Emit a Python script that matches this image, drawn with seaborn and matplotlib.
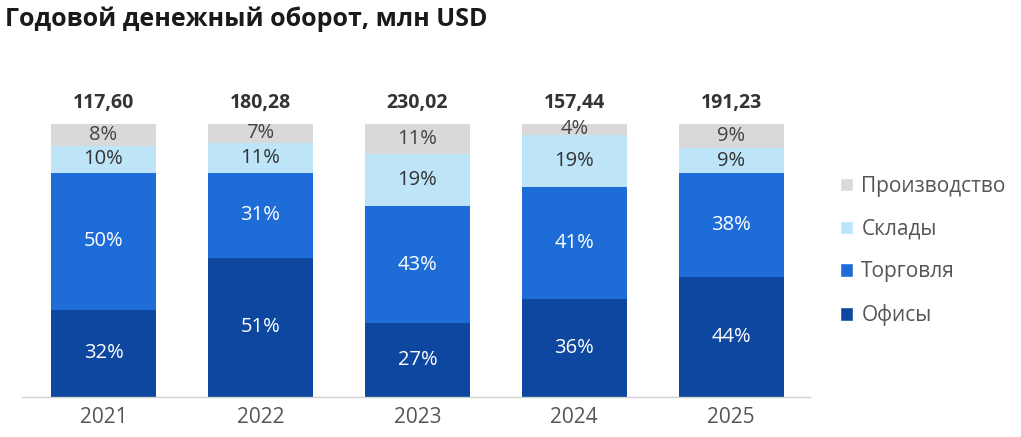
import numpy as np
import pandas as pd
import matplotlib
matplotlib.use("Agg")
import matplotlib.pyplot as plt
import seaborn as sns
from matplotlib.patches import Patch

# data
years = ["2021", "2022", "2023", "2024", "2025"]
totals = ["117,60", "180,28", "230,02", "157,44", "191,23"]
offices = [32, 51, 27, 36, 44]
trade = [50, 31, 43, 41, 38]
warehouses = [10, 11, 19, 19, 9]
production = [8, 7, 11, 4, 9]

series_names = ["Офисы", "Торговля", "Склады", "Производство"]
series_vals = [offices, trade, warehouses, production]
colors = ["#0E47A0", "#1E6CD7", "#BEE4F8", "#D9D9D9"]
text_colors = ["white", "white", "#333333", "#444444"]

sns.set_theme(style="white")
plt.rcParams["font.family"] = ["Open Sans", "DejaVu Sans"]

fig = plt.figure(figsize=(10.21, 4.37), dpi=100)
ax = fig.add_axes([0.0215, 0.0915, 0.7715, 0.625])

df = pd.DataFrame({"year": years})
cum = np.zeros(len(years))
cums = []
for vals in series_vals:
    cum = cum + np.array(vals)
    cums.append(cum.copy())

# draw cumulative bars from the top layer down so each covers the one above
for i in reversed(range(len(series_names))):
    df["h"] = cums[i]
    sns.barplot(data=df, x="year", y="h", color=colors[i], saturation=1,
                width=0.67, ax=ax, linewidth=0)

# segment labels
for i, vals in enumerate(series_vals):
    bottoms = cums[i] - np.array(vals)
    for j, v in enumerate(vals):
        ax.text(j, bottoms[j] + v / 2, f"{v}%", ha="center", va="center",
                fontsize=14.5, color=text_colors[i])

# totals above bars
for j, t in enumerate(totals):
    ax.text(j, 107.5, t, ha="center", va="center", fontsize=14,
            fontweight="bold", color="#333333")

ax.set_xlim(-0.52, 4.5)
ax.set_ylim(0, 100)
ax.set_xlabel("")
ax.set_ylabel("")
ax.set_yticks([])
ax.tick_params(axis="x", labelsize=15, labelcolor="#555555", length=0, pad=7)
for s in ["top", "right", "left"]:
    ax.spines[s].set_visible(False)
ax.spines["bottom"].set_color("#D0D0D0")
ax.spines["bottom"].set_linewidth(1)

handles = [Patch(facecolor=colors[i], label=series_names[i]) for i in reversed(range(4))]
fig.legend(handles=handles, loc="upper left", bbox_to_anchor=(0.815, 0.617),
           frameon=False, fontsize=15, labelcolor="#555555",
           handlelength=0.6, handleheight=0.6, handletextpad=0.4,
           labelspacing=1.05, borderaxespad=0)

fig.text(0.005, 0.955, "Годовой денежный оборот, млн USD", fontsize=18,
         fontweight="bold", color="#1a1a1a", ha="left", va="center")

fig.savefig("out.png", dpi=100)
